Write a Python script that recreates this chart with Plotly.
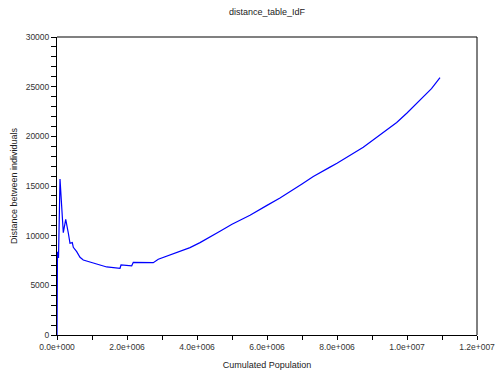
import plotly.graph_objects as go

# Cumulated population (persons)
population = [0, 14000, 43000, 86000, 180000, 249000, 323000, 371000, 437000, 466000,
              563000, 657000, 751000, 894000, 1037000, 1229000, 1420000, 1600000, 1800000,
              1829000, 2134000, 2180000, 2500000, 2751000, 2894000, 3229000, 3514000,
              3800000, 4086000, 4400000, 4657000, 5000000, 5514000, 6000000, 6371000,
              7000000, 7323000, 7800000, 8000000, 8751000, 9000000, 9706000, 10000000,
              10371000, 10700000, 10943000]
# Distance between individuals
distance = [0, 8390, 7750, 15710, 10300, 11650, 10270, 9230, 9300, 8830,
            8390, 7820, 7550, 7380, 7220, 7050, 6850, 6800, 6720,
            7050, 6960, 7320, 7330, 7280, 7620, 8060, 8390,
            8800, 9300, 9900, 10450, 11150, 12050, 13050, 13800,
            15200, 15950, 16900, 17300, 18900, 19550, 21400, 22350,
            23650, 24800, 25900]

x_tickvals = [0, 2e6, 4e6, 6e6, 8e6, 1e7, 1.2e7]
x_ticktext = ["0.0e+000", "2.0e+006", "4.0e+006", "6.0e+006", "8.0e+006", "1.0e+007", "1.2e+007"]
y_tickvals = [0, 5000, 10000, 15000, 20000, 25000, 30000]
y_ticktext = ["0", "5000", "10000", "15000", "20000", "25000", "30000"]

font_family = "Liberation Sans, Arial, sans-serif"

fig = go.Figure()
fig.add_trace(go.Scatter(x=population, y=distance, mode="lines",
                         line=dict(color="#0000ff", width=1.2), showlegend=False,
                         cliponaxis=False))

fig.update_layout(
    width=501, height=379,
    margin=dict(l=57, r=24, t=37, b=44, autoexpand=False),
    paper_bgcolor="white", plot_bgcolor="white",
    font=dict(family=font_family, size=8.5, color="#333333"),
    title=dict(text="distance_table_IdF", x=0.533, xanchor="center", y=0.968, yanchor="middle",
               font=dict(family=font_family, size=9, color="#222222")),
    xaxis=dict(range=[0, 1.2e7], tickmode="array", tickvals=x_tickvals, ticktext=x_ticktext,
               showgrid=False, zeroline=False, showline=True, linecolor="black", linewidth=1,
               ticks="outside", ticklen=4, tickcolor="black", tickwidth=1, automargin=False,
               minor=dict(ticks="outside", ticklen=4, tickcolor="black", dtick=1e6, tick0=0, showgrid=False),
               title=dict(text="Cumulated Population", font=dict(size=9, color="#222222"), standoff=10),
               tickfont=dict(size=8.5, color="#333333")),
    yaxis=dict(range=[0, 30000], tickmode="array", tickvals=y_tickvals, ticktext=y_ticktext,
               showgrid=False, zeroline=False, showline=True, linecolor="black", linewidth=1,
               ticks="outside", ticklen=5, tickcolor="black", tickwidth=1, automargin=False,
               minor=dict(ticks="outside", ticklen=5, tickcolor="black", dtick=1000, tick0=0, showgrid=False),
               title=dict(text="Distance between individuals", font=dict(size=9, color="#222222"), standoff=6),
               tickfont=dict(size=8.5, color="#333333")),
    shapes=[
        dict(type="line", xref="paper", yref="paper", x0=0, x1=1, y0=1, y1=1,
             line=dict(color="#808080", width=2)),
        dict(type="line", xref="paper", yref="paper", x0=1, x1=1, y0=0, y1=1,
             line=dict(color="black", width=1)),
    ],
)

fig.write_html("out.html", config={"displayModeBar": False},
               post_script="document.body.style.margin='0';document.body.style.padding='0';")
